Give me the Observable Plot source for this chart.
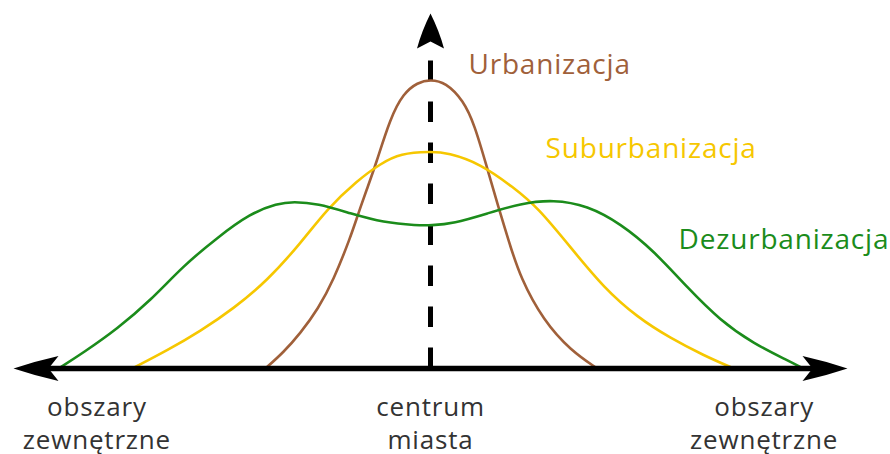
<!DOCTYPE html>
<html>
<head>
<meta charset="utf-8">
<script src="https://cdn.jsdelivr.net/npm/d3@7"></script>
<script src="https://cdn.jsdelivr.net/npm/@observablehq/plot@0.6"></script>
<style>
  html, body { margin: 0; padding: 0; background: #fff; }
</style>
</head>
<body>
<div id="chart"></div>
<script>
// ---- Data (distance from city centre: -100..100, intensity: 0..100) ----
const series = ["Urbanizacja", "Suburbanizacja", "Dezurbanizacja"];

const urbanDistance = [-39.6, -35.3, -31.2, -26.9, -23.3, -19.2, -17.3, -15.3, -13.2, -9.6, -6.5, -3.1, 0, 3.6, 7.9, 10.6, 13.4, 16.3, 18.7, 21.6, 27.1, 33.6, 40.0];
const urbanLevel    = [0, 4.5, 9.9, 16.9, 24.8, 36.9, 43.7, 50.4, 57.2, 70.7, 77.5, 80.6, 81.4, 80.6, 75.5, 68.5, 57.2, 45.4, 36.1, 25.4, 13.5, 5.1, 0];

const suburbDistance = [-71.5, -63.1, -55.2, -47.2, -39.1, -31.2, -24.7, -17.5, -12.0, -7.2, 0, 4.1, 12.0, 19.9, 25.7, 33.6, 41.5, 49.6, 57.6, 65.5, 72.7];
const suburbLevel    = [0, 5.1, 10.5, 16.9, 24.8, 35.2, 45.1, 53.0, 57.7, 60.6, 61.1, 60.8, 57.7, 51.0, 45.4, 34.1, 22.8, 14.4, 8.5, 3.7, 0];

const dezurbDistance = [-89.2, -83.2, -75.1, -67.1, -59.2, -51.1, -43.2, -36.7, -32.9, -27.1, -19.2, -11.3, -3.1, 0, 5.5, 13.7, 21.6, 29.5, 37.6, 45.6, 53.5, 61.6, 69.5, 77.5, 85.6, 89.4];
const dezurbLevel    = [0, 4.5, 11.2, 19.2, 29.0, 36.9, 43.7, 46.5, 47.0, 46.5, 43.7, 41.1, 40.3, 40.3, 40.8, 43.7, 46.5, 47.6, 45.9, 40.8, 33.2, 22.8, 13.5, 7.0, 2.3, 0];

const axisTickValues = [-80, 0, 80];
const axisTickLabels = ["obszary\nzewnętrzne", "centrum\nmiasta", "obszary\nzewnętrzne"];

// ---- Build table for the library ----
const curves = [
  [series[0], urbanDistance, urbanLevel],
  [series[1], suburbDistance, suburbLevel],
  [series[2], dezurbDistance, dezurbLevel]
];
const rows = curves.flatMap(([name, xs, ys]) => xs.map((x, i) => ({series: name, distance: x, level: ys[i]})));

// label anchors (data units)
const seriesLabels = [
  {series: series[0], distance: 9.1, level: 85.4},
  {series: series[1], distance: 27.6, level: 61.7},
  {series: series[2], distance: 59.5, level: 36.3}
];

const colors = ["#a0603a", "#f6c700", "#1b8c1b"];

// swept, filled arrowhead symbol: tip at (0,0), pointing up
const sweptArrow = (L, W, notch, bow) => ({
  draw(ctx) {
    ctx.moveTo(0, 0);
    ctx.quadraticCurveTo(W * bow, L * 0.5, W, L);
    ctx.lineTo(0, L - notch);
    ctx.lineTo(-W, L);
    ctx.quadraticCurveTo(-W * bow, L * 0.5, 0, 0);
    ctx.closePath();
  }
});
const hArrow = sweptArrow(45, 12.5, 10, 0.6);
const vArrow = sweptArrow(35, 13.5, 7, 0.65);

const chart = Plot.plot({
  width: 890,
  height: 454,
  marginTop: 13,
  marginBottom: 86,
  marginLeft: 13,
  marginRight: 43,
  x: {domain: [-100, 100], axis: null},
  y: {domain: [0, 100], axis: null},
  color: {domain: series, range: colors},
  style: {fontFamily: "'Open Sans', sans-serif", background: "#fff", overflow: "visible", letterSpacing: "0.8px"},
  marks: [
    // dashed vertical axis
    Plot.ruleX([0], {y1: 0, y2: 90, stroke: "black", strokeWidth: 5, strokeDasharray: "20.5,20.5"}),
    // curves
    Plot.line(rows, {x: "distance", y: "level", z: "series", stroke: "series", strokeWidth: 2.6, curve: "basis"}),
    // horizontal axis
    Plot.ruleY([0], {x1: -95, x2: 95, stroke: "black", strokeWidth: 5.5}),
    // arrowheads
    Plot.dot([100], {x: d => d, y: () => 0, symbol: hArrow, rotate: 90, fill: "black", stroke: "none"}),
    Plot.dot([-100], {x: d => d, y: () => 0, symbol: hArrow, rotate: -90, fill: "black", stroke: "none"}),
    Plot.dot([100], {x: () => 0, y: d => d, symbol: vArrow, fill: "black", stroke: "none"}),
    // series labels
    Plot.text(seriesLabels, {x: "distance", y: "level", text: "series", fill: "series", textAnchor: "start", fontSize: 28}),
    // bottom labels
    Plot.text(axisTickValues, {x: d => d, y: () => 0, text: (d, i) => axisTickLabels[i], lineAnchor: "top", dy: 23, lineHeight: 1.3, fontSize: 26, fill: "#333"})
  ]
});
document.getElementById("chart").appendChild(chart);
</script>
</body>
</html>
